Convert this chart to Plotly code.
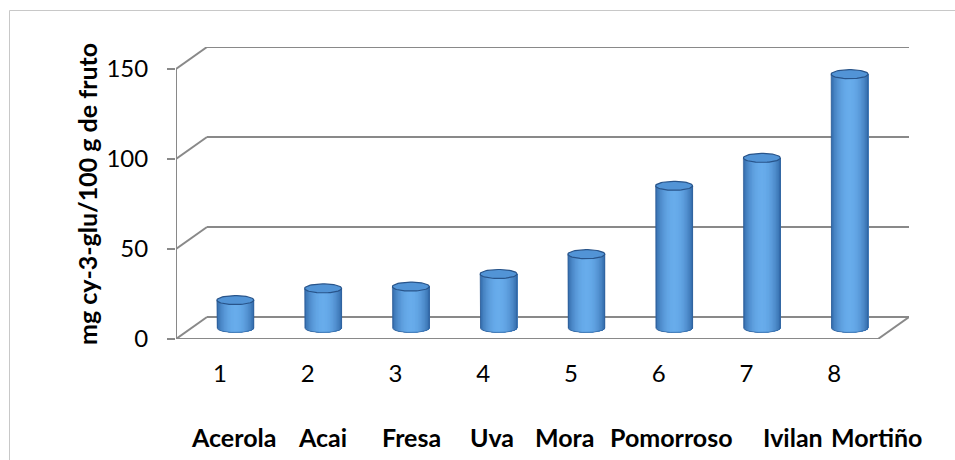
import numpy as np
import plotly.graph_objects as go

# ---- data -------------------------------------------------------------
categories = ["Acerola", "Acai", "Fresa", "Uva", "Mora", "Pomorroso", "Ivilan", "Mortiño"]
category_numbers = ["1", "2", "3", "4", "5", "6", "7", "8"]
values = [15.5, 22, 23, 30, 41, 79, 94.5, 141]
y_ticks = [0, 50, 100, 150]
y_title = "mg cy-3-glu/100 g de fruto"

# ---- page geometry (pixels) ----------------------------------------------
W, H = 955, 460
M_L, M_R, M_T, M_B = 176, 46, 47, 121
PX_PER_CAT = 87.75          # width of one category slot on the front plane
PX_PER_UNIT = 1.8           # vertical pixels per value unit
DEPTH_PX = (31, 22)         # oblique offset of the back wall

DX = DEPTH_PX[0] / PX_PER_CAT
DY = DEPTH_PX[1] / PX_PER_UNIT
X0 = 0.5
X1 = X0 + len(categories)
PLOT_W = W - M_L - M_R
PLOT_H = H - M_T - M_B
x_range = [X0, X0 + PLOT_W / PX_PER_CAT]
y_range = [0, PLOT_H / PX_PER_UNIT]


def px_to_x(px):
    return X0 + (px - M_L) / PX_PER_CAT


def px_to_paper_x(px):
    return (px - M_L) / PLOT_W


def px_to_paper_y(py):
    return (H - M_B - py) / PLOT_H


FONT = "Lato, 'Open Sans', sans-serif"
GRID = "#898989"

# ---- cylinders --------------------------------------------------------------
RX = 18.5 / PX_PER_CAT      # cylinder radius (x units)
RY = 4.5 / PX_PER_UNIT      # ellipse half height (y units)
BASE = DY / 2               # cylinders stand halfway into the floor
X_SHIFT = DX / 2
N_STRIPS = 26

dark = np.array([46, 100, 164])
light = np.array([104, 172, 235])


def shade(t):
    f = np.sin(np.pi * np.clip(t, 0, 1)) ** 0.7
    c = dark + (light - dark) * f
    return "rgb(%d,%d,%d)" % tuple(c.round())


fig = go.Figure()

ang = np.linspace(0, np.pi, 40)
for j in range(N_STRIPS):
    xs_all, ys_all = [], []
    xl = -RX + 2 * RX * j / N_STRIPS
    for i, v in enumerate(values):
        cx = i + 1 + X_SHIFT
        xa = np.linspace(xl, RX, 30)
        yb = BASE - RY * np.sqrt(np.clip(1 - (xa / RX) ** 2, 0, 1))
        top = BASE + v
        xs = list(cx + xa) + [cx + RX, cx + xl]
        ys = list(yb) + [top, top]
        xs_all += xs + [None]
        ys_all += ys + [None]
    fig.add_trace(go.Scatter(
        x=xs_all, y=ys_all, mode="lines", fill="toself",
        fillcolor=shade((j + 0.5) / N_STRIPS), line=dict(width=0),
        hoverinfo="skip", showlegend=False))

# top faces
tx, ty = [], []
full = np.linspace(0, 2 * np.pi, 60)
for i, v in enumerate(values):
    cx = i + 1 + X_SHIFT
    tx += list(cx + RX * np.cos(full)) + [None]
    ty += list(BASE + v + RY * np.sin(full)) + [None]
fig.add_trace(go.Scatter(
    x=tx, y=ty, mode="lines", fill="toself", fillcolor="rgb(82,148,214)",
    line=dict(color="rgb(40,84,138)", width=1.2),
    hoverinfo="skip", showlegend=False))

# body silhouette
ox, oy = [], []
for i, v in enumerate(values):
    cx = i + 1 + X_SHIFT
    ox += [cx - RX] + list(cx - RX * np.cos(ang)) + [cx + RX, None]
    oy += [BASE + v] + list(BASE - RY * np.sin(ang)) + [BASE + v, None]
fig.add_trace(go.Scatter(
    x=ox, y=oy, mode="lines", line=dict(color="rgba(40,85,140,0.7)", width=0.8),
    hoverinfo="skip", showlegend=False))

# ---- walls, floor and gridlines ---------------------------------------------
shapes = []


def seg(xa, ya, xb, yb):
    shapes.append(dict(type="line", xref="x", yref="y", x0=xa, y0=ya, x1=xb, y1=yb,
                       line=dict(color=GRID, width=2), layer="below"))


for v in y_ticks:
    seg(X0 + DX, v + DY, X1 + DX, v + DY)
    seg(X0, v, X0 + DX, v + DY)
seg(X0, 0, X0, y_ticks[-1])
seg(X0, 0, X1, 0)
seg(X1, 0, X1 + DX, DY)

# outer chart frame
shapes.append(dict(type="rect", xref="paper", yref="paper",
                   x0=px_to_paper_x(9.5), x1=1.2,
                   y0=-0.6, y1=px_to_paper_y(10.5),
                   line=dict(color="#c8c8c8", width=1), layer="below"))

# ---- text labels ------------------------------------------------------------
name_px = [233, 322, 411, 492, 564, 671, 793, 876]
annotations = []
for name, px in zip(categories, name_px):
    annotations.append(dict(
        text="<b>%s</b>" % name, x=px_to_x(px), xref="x",
        y=px_to_paper_y(437), yref="paper", xanchor="center", yanchor="middle",
        showarrow=False, font=dict(family=FONT, size=25, color="black")))

# vertical axis title
annotations.append(dict(
    text="<b>%s</b>" % y_title, textangle=-90,
    x=px_to_paper_x(87), xref="paper", y=px_to_paper_y(194), yref="paper",
    xanchor="center", yanchor="middle", showarrow=False,
    font=dict(family=FONT, size=25, color="black")))

fig.update_layout(
    width=W, height=H,
    margin=dict(l=M_L, r=M_R, t=M_T, b=M_B, autoexpand=False),
    paper_bgcolor="white", plot_bgcolor="white",
    shapes=shapes, annotations=annotations,
    xaxis=dict(range=x_range, tickvals=list(range(1, len(categories) + 1)),
               ticktext=category_numbers, showgrid=False, zeroline=False,
               showline=False, ticks="", ticklabelstandoff=18,
               tickfont=dict(family=FONT, size=24, color="black"), fixedrange=True),
    yaxis=dict(range=y_range, tickvals=y_ticks, showgrid=False, zeroline=False,
               showline=False, ticks="outside", ticklen=8, tickwidth=2,
               tickcolor=GRID, ticklabelstandoff=14,
               tickfont=dict(family=FONT, size=24, color="black"),
               fixedrange=True),
)

fig.write_html("out.html")
